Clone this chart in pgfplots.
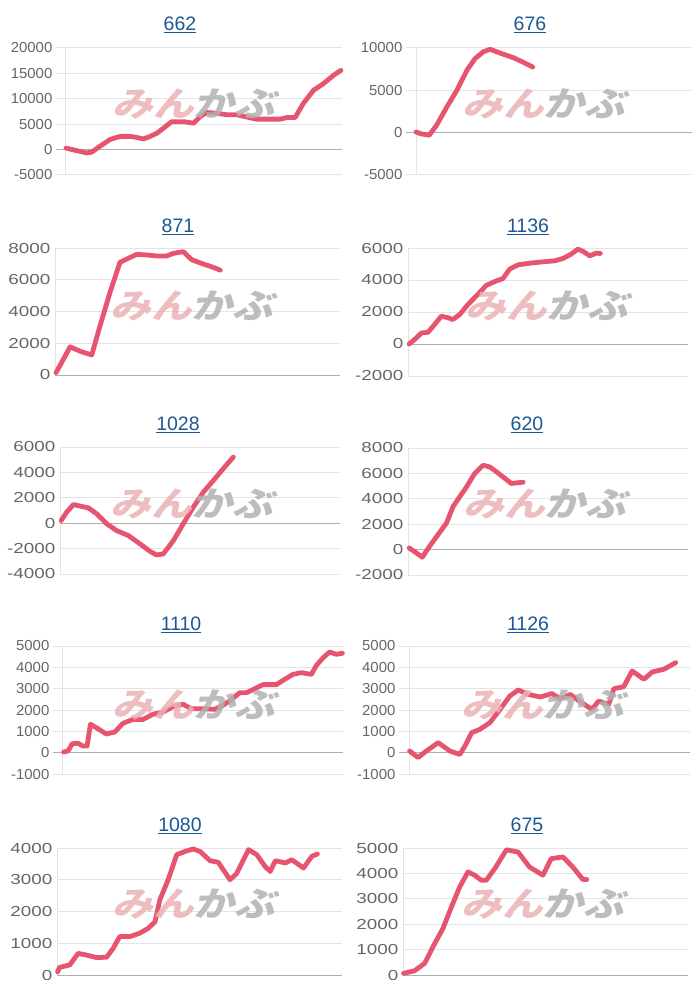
\documentclass[border=0pt]{standalone}
\usepackage{pgfplots}
\pgfplotsset{compat=1.18}
\usepackage{fontspec}
\setmainfont{Liberation Sans}
\newfontfamily\jp{Noto Sans CJK JP}
\definecolor{linecol}{RGB}{231,84,111}
\definecolor{gridgray}{RGB}{228,228,228}
\definecolor{zerogray}{RGB}{175,175,175}
\definecolor{labelgray}{RGB}{102,102,102}
\definecolor{titleblue}{RGB}{28,88,150}
\definecolor{wmpink}{RGB}{236,178,181}
\definecolor{wmgray}{RGB}{178,178,178}
\pgfplotsset{mini/.style={
  scale only axis, xmin=0, xmax=100, xtick=\empty,
  axis x line=none, axis y line*=left,
  y axis line style={draw=gridgray, line width=1pt},
  ymajorgrids, grid style={draw=gridgray, line width=1pt},
  tick align=outside,
  ytick style={draw=gridgray, line width=1pt},
  scaled y ticks=false,
  /pgf/number format/assume math mode=true,
  /pgf/number format/1000 sep={},
  extra y ticks={0}, extra y tick labels={},
  extra y tick style={grid style={draw=zerogray, line width=1pt}, ytick style={draw=zerogray}},
  clip=false,
},
grpA/.style={major tick length=10pt, yticklabel style={font=\fontsize{14.5}{16}\selectfont, text=labelgray, xscale=1.03}},
grpB/.style={major tick length=0pt, yticklabel style={font=\fontsize{14.5}{16}\selectfont, text=labelgray, xscale=1.3}},
}
\pgfplotsset{pl/.style={color=linecol, line width=4.8pt, line join=round, line cap=round, mark=none}}
\newcommand{\ttl}[3]{\node[font=\fontsize{19.5}{21}\selectfont, text=titleblue] at (#1pt,-#2pt) {\underline{#3}};}
\newcommand{\wm}[2]{\node[opacity=0.85, xslant=0.25, xscale=1.2, inner sep=0pt, font=\jp\bfseries\fontsize{34}{36}\selectfont] at (#1pt,-#2pt) {\textcolor{wmpink}{みん}\textcolor{wmgray}{かぶ}};}
\begin{document}
\begin{tikzpicture}[x=1pt,y=1pt]
\path[use as bounding box, fill=white] (0,0) rectangle (700,-1000);
% 662
\begin{axis}[mini, grpA, at={(66pt,-175pt)}, anchor=south west, width=276pt, height=127pt, ymin=-5000, ymax=20000, ytick={-5000,0,5000,10000,15000,20000}]
\addplot[pl] coordinates {(0,300)(3.3,-130)(7.5,-650)(9.3,-500)(12.3,650)(16,2000)(19.6,2600)(23.2,2600)(25.6,2400)(28,2100)(30.5,2600)(33,3250)(35.3,4200)(38.3,5500)(42.6,5500)(46.2,5200)(48.6,6500)(51,7300)(54.7,7150)(58.3,6850)(62,6850)(65.6,6400)(69,6000)(72.8,6000)(77.6,6000)(80,6300)(83,6300)(86,9100)(89.7,11700)(93.3,13000)(97,14650)(99.6,15600)};
\end{axis}
% 676
\begin{axis}[mini, grpA, at={(416pt,-175pt)}, anchor=south west, width=276pt, height=127pt, ymin=-5000, ymax=10000, ytick={-5000,0,5000,10000}]
\addplot[pl] coordinates {(0,80)(2,-150)(4.8,-300)(7.5,900)(11.2,3050)(14.8,5000)(18.5,7400)(21.4,8750)(24.4,9550)(26.8,9850)(30.5,9400)(35.3,8850)(39,8300)(42.3,7750)};
\end{axis}
% 871
\begin{axis}[mini, grpB, at={(55pt,-375pt)}, anchor=south west, width=285pt, height=127pt, ymin=0, ymax=8000, ytick={0,2000,4000,6000,8000}]
\addplot[pl] coordinates {(0.35,150)(2.3,780)(5.3,1770)(8.8,1500)(12.9,1260)(15.8,3100)(19.3,5200)(22.8,7100)(25.7,7350)(28.7,7600)(32.2,7560)(35.7,7500)(39.2,7500)(41.5,7660)(45,7770)(48,7260)(52,6990)(55.6,6780)(58,6600)};
\end{axis}
% 1136
\begin{axis}[mini, grpB, at={(408pt,-376pt)}, anchor=south west, width=280pt, height=128pt, ymin=-2000, ymax=6000, ytick={-2000,0,2000,4000,6000}]
\addplot[pl] coordinates {(0.4,0)(3,380)(4.8,690)(7.1,730)(9.5,1220)(11.9,1740)(14.3,1640)(16,1530)(18.5,1850)(21.4,2470)(24.4,3000)(28,3670)(31.5,3940)(33.9,4090)(36.3,4680)(39.3,4950)(43.5,5050)(48.2,5140)(52.4,5200)(55.4,5350)(58.3,5620)(60.7,5930)(62.5,5790)(64.9,5510)(67.3,5680)(68.7,5660)};
\end{axis}
% 1028
\begin{axis}[mini, grpB, at={(60pt,-574pt)}, anchor=south west, width=280pt, height=127pt, ymin=-4000, ymax=6000, ytick={-4000,-2000,0,2000,4000,6000}]
\addplot[pl] coordinates {(0.4,210)(2.4,870)(4.8,1470)(7.7,1320)(10.1,1210)(13.1,740)(16.7,-50)(20.2,-580)(24.4,-970)(28.6,-1630)(32.1,-2210)(34.5,-2500)(36.9,-2420)(40.5,-1370)(44,-50)(47.6,1260)(51.2,2450)(54.8,3370)(58.3,4290)(61.9,5210)};
\end{axis}
% 620
\begin{axis}[mini, grpB, at={(408pt,-575pt)}, anchor=south west, width=280pt, height=127pt, ymin=-2000, ymax=8000, ytick={-2000,0,2000,4000,6000,8000}]
\addplot[pl] coordinates {(0.4,130)(3,-260)(5.1,-600)(7.7,260)(10.7,1170)(13.7,2080)(16.1,3390)(18.5,4170)(20.8,4900)(23.8,5990)(26.8,6640)(29.2,6510)(32.1,6040)(35.1,5520)(36.9,5210)(41.1,5310)};
\end{axis}
% 1110
\begin{axis}[mini, grpA, at={(63pt,-774pt)}, anchor=south west, width=280pt, height=128pt, ymin=-1000, ymax=5000, ytick={-1000,0,1000,2000,3000,4000,5000}]
\addplot[pl] coordinates {(0.2,30)(1.8,80)(3.3,420)(5.4,440)(7.1,310)(8.6,310)(9.8,1330)(11.9,1170)(15.5,875)(18.5,970)(21.4,1375)(25,1560)(28.6,1560)(32.1,1800)(35.7,1900)(39.3,2160)(42.9,2270)(45.8,2060)(50,2060)(54.2,2030)(57.1,2220)(59.5,2420)(63.1,2810)(65.5,2810)(69,3030)(71.4,3190)(76.2,3190)(79.2,3440)(82.1,3670)(85.1,3750)(88.7,3670)(90.5,4090)(92.9,4450)(95.2,4720)(97.6,4610)(99.8,4660)};
\end{axis}
% 1126
\begin{axis}[mini, grpA, at={(409pt,-774pt)}, anchor=south west, width=281pt, height=128pt, ymin=-1000, ymax=5000, ytick={-1000,0,1000,2000,3000,4000,5000}]
\addplot[pl] coordinates {(0.2,80)(3.2,-230)(6.2,80)(10.4,470)(14.5,80)(18.1,-80)(19.9,310)(22.3,940)(25.2,1090)(28.8,1410)(32.4,2030)(35.9,2660)(38.9,2940)(42.5,2730)(46.7,2610)(50.8,2770)(53.8,2530)(57.4,2730)(61,2380)(65.1,2030)(67.5,2420)(71.1,2270)(72.9,3000)(76.4,3090)(79.4,3830)(83.6,3440)(86.5,3780)(90.7,3910)(94.9,4220)};
\end{axis}
% 1080
\begin{axis}[mini, grpB, at={(57pt,-975pt)}, anchor=south west, width=285pt, height=127pt, ymin=0, ymax=4000, ytick={0,1000,2000,3000,4000}]
\addplot[pl] coordinates {(0.2,100)(0.9,240)(4.5,320)(7.4,680)(10.3,630)(13.8,550)(17.4,560)(19.7,840)(22,1210)(25.6,1210)(29.1,1320)(32,1470)(34.4,1680)(36.1,2370)(39,3000)(42,3790)(44.9,3890)(47.8,3970)(50.2,3890)(53.7,3600)(56.6,3550)(60.7,3000)(63,3190)(67.2,3950)(70.1,3790)(73,3420)(74.8,3260)(76.6,3600)(80.1,3530)(82.4,3630)(86.5,3370)(89.4,3740)(91.4,3810)};
\end{axis}
% 675
\begin{axis}[mini, grpB, at={(403pt,-975pt)}, anchor=south west, width=285pt, height=127pt, ymin=0, ymax=5000, ytick={0,1000,2000,3000,4000,5000}]
\addplot[pl] coordinates {(0.2,65)(4.1,170)(7.6,460)(10.5,1110)(14,1830)(17,2680)(19.9,3470)(22.8,4060)(25.1,3930)(27.5,3730)(29.2,3730)(32.2,4190)(36.3,4930)(40.4,4840)(44.4,4250)(49.1,3930)(52,4580)(56.1,4650)(59.6,4250)(63.1,3760)(64.5,3760)};
\end{axis}
% titles
\ttl{180}{25}{662}
\ttl{530}{25}{676}
\ttl{178}{227}{871}
\ttl{528}{227}{1136}
\ttl{178}{425}{1028}
\ttl{527}{425}{620}
\ttl{181}{625}{1110}
\ttl{528}{625}{1126}
\ttl{180}{826}{1080}
\ttl{527}{826}{675}
% watermarks
\wm{197}{104}
\wm{547}{104}
\wm{195}{306}
\wm{550}{306}
\wm{195}{504}
\wm{548}{504}
\wm{197}{705}
\wm{546}{705}
\wm{197}{904}
\wm{546}{904}
\end{tikzpicture}
\end{document}
